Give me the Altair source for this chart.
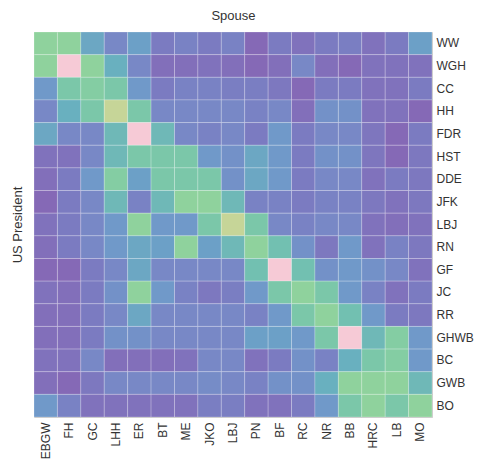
import altair as alt
import pandas as pd

presidents = ["WW", "WGH", "CC", "HH", "FDR", "HST", "DDE", "JFK", "LBJ",
              "RN", "GF", "JC", "RR", "GHWB", "BC", "GWB", "BO"]
spouses = ["EBGW", "FH", "GC", "LHH", "ER", "BT", "ME", "JKO", "LBJ",
           "PN", "BF", "RC", "NR", "BB", "HRC", "LB", "MO"]

# one list per president (row), values in spouse order
r_WW = [7, 7, 4, 2, 3.5, 1, 1.5, 1, 1.5, 0, 1, 0.5, 1, 1.2, 0.5, 1, 3.5]
r_WGH = [7, 9, 7, 4.5, 2, 0.3, 0.3, 0.5, 0.3, 0, 0.3, 2, 0.3, 0, 0.5, 0.5, 0.5]
r_CC = [3, 6, 6.5, 6, 3, 1, 1.5, 1.5, 1.2, 1.2, 0.8, 0, 1, 1, 0.5, 0.5, 1]
r_HH = [2, 4.5, 6, 8, 6, 2, 2, 2, 2, 1.5, 2, 0.3, 2.5, 2.5, 0.5, 0.5, 0]
r_FDR = [4, 2, 2, 5, 9, 5, 2, 1.5, 2, 1, 3, 1, 2, 2, 0.7, 0, 1]
r_HST = [0.5, 0.5, 2, 5, 6, 6, 6, 3, 2.5, 4, 3, 1, 2.5, 2.5, 0.7, 0, 0.8]
r_DDE = [0.3, 1, 3, 6.5, 3.5, 6, 6, 6, 2.5, 4, 3, 1, 2, 2, 0.5, 1, 0.8]
r_JFK = [0, 1, 2, 5, 1.5, 5, 7, 7, 5, 1.5, 1.5, 1, 1.5, 1.5, 0.8, 0.5, 0.8]
r_LBJ = [0.5, 1, 2, 3, 7, 3, 3, 6, 8, 6, 2, 1.5, 2, 2, 0.5, 0.3, 0.5]
r_RN = [0.3, 1, 2, 3, 4, 3.5, 7, 3.5, 5, 7, 5.5, 2.5, 0.8, 3, 0.5, 1.5, 0.8]
r_GF = [0, 0, 1, 2, 4, 2, 2, 2, 2, 5.5, 9, 5.5, 2.5, 3, 2.5, 2, 0.5]
r_JC = [0.5, 0.3, 1, 2.5, 7, 3, 1.5, 0.8, 1.2, 3, 6, 7, 6, 3, 1.5, 0.5, 1]
r_RR = [0.3, 0.3, 1, 2, 4, 2, 2, 2, 2, 1.5, 3, 6, 7, 5.5, 3, 1, 0.8]
r_GHWB = [0.3, 0.3, 1, 2.5, 2.5, 2, 2, 2, 2, 3.5, 3.5, 3, 6, 9, 5, 6.5, 3]
r_BC = [0.5, 0.5, 2, 0.3, 0.3, 0.3, 0.5, 2, 2, 0.5, 1, 2.5, 1.5, 4.5, 6, 6.5, 3]
r_GWB = [0.3, 0, 0.8, 2, 2, 2, 2, 2.2, 2, 1.5, 2.5, 2.5, 4.5, 7, 7, 7, 5]
r_BO = [3, 1.5, 0.5, 0.5, 0.5, 0.5, 0.5, 1.2, 1.2, 0.5, 0.5, 1, 3, 6, 7, 6, 7]

rows = [r_WW, r_WGH, r_CC, r_HH, r_FDR, r_HST, r_DDE, r_JFK, r_LBJ,
        r_RN, r_GF, r_JC, r_RR, r_GHWB, r_BC, r_GWB, r_BO]

color_stops = [0, 1, 2, 3, 4, 5, 6, 7, 8, 9]
color_range = ["#8569b6", "#7b7bc1", "#7888c6", "#7099c9", "#6ca7c3",
               "#6fb8b7", "#7bc7a9", "#8fd29d", "#c6d598", "#f6cad6"]

records = []
for p, vals in zip(presidents, rows):
    for s, v in zip(spouses, vals):
        records.append({"president": p, "spouse": s, "value": v})
df = pd.DataFrame(records)

base = alt.Chart(df)

main = base.mark_rect(stroke="white", strokeWidth=1, strokeOpacity=0.22).encode(
    x=alt.X("spouse:N", sort=spouses,
            axis=alt.Axis(orient="bottom", title=None, labelAngle=-90, ticks=False,
                          domain=False, labelFontSize=12, labelPadding=5,
                          labelBaseline="middle", labelAlign="right")),
    y=alt.Y("president:N", sort=presidents,
            axis=alt.Axis(orient="right", title=None, ticks=False, domain=False,
                          labelFontSize=12, labelPadding=4)),
    color=alt.Color("value:Q", scale=alt.Scale(domain=color_stops, range=color_range),
                    legend=None),
)

titles = base.mark_rect(opacity=0).encode(
    x=alt.X("spouse:N", sort=spouses,
            axis=alt.Axis(orient="top", title="Spouse", labels=False, ticks=False,
                          domain=False, titlePadding=10, titleFontSize=13)),
    y=alt.Y("president:N", sort=presidents,
            axis=alt.Axis(orient="left", title="US President", labels=False, ticks=False,
                          domain=False, titlePadding=10, titleFontSize=13)),
)

chart = alt.layer(main, titles).resolve_scale(
    x="independent", y="independent"
).properties(
    width=398, height=385,
    padding={"left": 26, "top": 24, "right": 42, "bottom": 42},
    autosize=alt.AutoSizeParams(type="none"),
).configure_view(
    stroke="#c8c8c8", strokeWidth=1
).configure_axis(
    labelFont="Liberation Sans", titleFont="Liberation Sans",
    labelColor="#333333", titleColor="#333333", titleFontWeight="normal",
    grid=False,
)

chart.save("out.html", embed_options={"renderer": "svg", "actions": False})
